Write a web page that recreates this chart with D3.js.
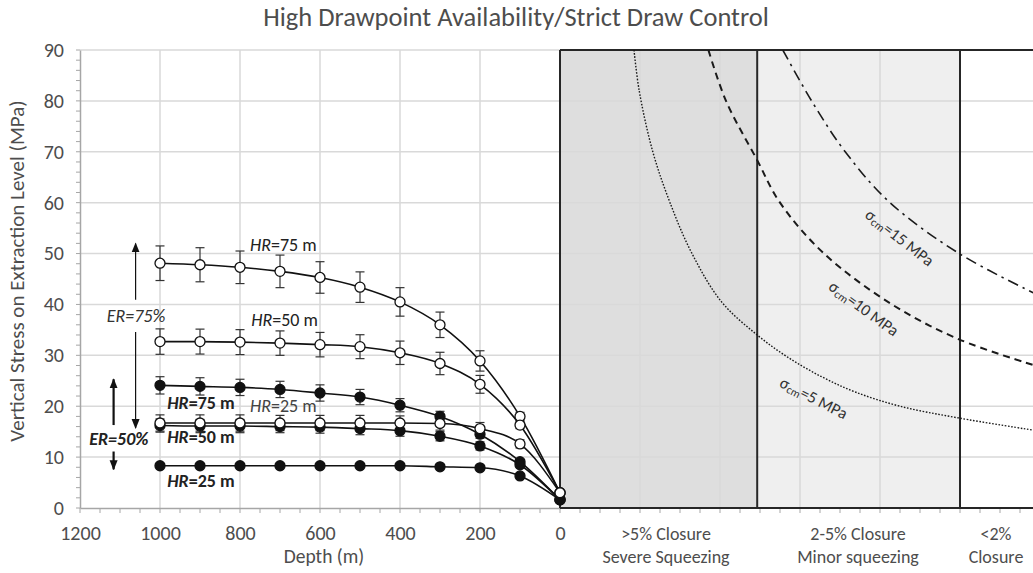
<!DOCTYPE html>
<html>
<head>
<meta charset="utf-8">
<script src="https://cdn.jsdelivr.net/npm/d3@7"></script>
<style>
  html, body { margin: 0; padding: 0; background: #fff; }
  svg { display: block; font-family: Carlito, "Open Sans", "Noto Sans", sans-serif; }
</style>
</head>
<body>
<svg id="chart" width="1033" height="573"></svg>
<script>
// ---- Depth series (m) and vertical stress (MPa) on extraction level ----
const depths = [1000, 900, 800, 700, 600, 500, 400, 300, 200, 100, 0];

// ER = 75 % (open markers)
const er75hr75 = [48.1, 47.8, 47.3, 46.5, 45.3, 43.4, 40.5, 36.0, 28.9, 18.0, 3.0];
const er75hr75Err = [3.4, 3.35, 3.2, 3.2, 3.1, 3.0, 2.8, 2.5, 2.0, 0.8, 0];
const er75hr50 = [32.7, 32.7, 32.6, 32.4, 32.1, 31.7, 30.5, 28.4, 24.3, 16.3, 3.0];
const er75hr50Err = [2.5, 2.45, 2.45, 2.4, 2.4, 2.35, 2.3, 2.2, 1.75, 0.7, 0];
const er75hr25 = [16.7, 16.7, 16.7, 16.7, 16.7, 16.7, 16.7, 16.6, 15.6, 12.6, 3.0];
const er75hr25Err = [1.6, 1.6, 1.6, 1.5, 1.5, 1.5, 1.4, 1.3, 1.2, 0.8, 0];

// ER = 50 % (filled markers)
const er50hr75 = [24.1, 23.9, 23.7, 23.3, 22.6, 21.8, 20.2, 18.0, 14.5, 9.1, 1.6];
const er50hr75Err = [1.7, 1.7, 1.6, 1.6, 1.6, 1.5, 1.3, 1.0, 0.8, 0.4, 0];
const er50hr50 = [16.2, 16.1, 16.1, 16.0, 15.9, 15.6, 15.2, 14.1, 12.2, 8.5, 1.6];
const er50hr50Err = [1.3, 1.3, 1.3, 1.2, 1.2, 1.2, 1.1, 0.9, 0.8, 0.4, 0];
const er50hr25 = [8.3, 8.3, 8.3, 8.3, 8.3, 8.3, 8.3, 8.1, 7.9, 6.3, 1.6];
const er50hr25Err = [0.3, 0.3, 0.3, 0.3, 0.3, 0.3, 0.3, 0.3, 0.3, 0.2, 0];

// ---- Closure chart: squeezing limit curves for rock-mass strength ----
// position along the closure panel (u) and stress (MPa)
const sigma5U = [1.85, 1.98, 2.32, 2.75, 3.3, 4.04, 4.93, 5.7, 6.54, 7.38, 8.5, 9.96, 11.83];
const sigma5V = [90, 82, 70, 60, 50, 40.5, 34, 29.6, 25.8, 22.8, 20, 17.7, 15.3];
const sigma10U = [3.71, 4.15, 4.92, 5.5, 6.6, 8.3, 9.96, 11.83];
const sigma10V = [90, 80, 68.5, 60, 50, 40, 33.2, 28.1];
const sigma15U = [5.57, 6.29, 7.13, 8.25, 9.98, 11.83];
const sigma15V = [90, 80, 70, 60, 50, 42.3];

const zoneBounds = [0, 4.93, 10, 12];
const zoneLine1 = [">5% Closure", "2-5% Closure", "<2%"];
const zoneLine2 = ["Severe Squeezing", "Minor squeezing", "Closure"];
const zoneLabelU = [2.65, 7.45, 10.9];

const depthTicks = [1200, 1000, 800, 600, 400, 200, 0];
const stressTicks = [0, 10, 20, 30, 40, 50, 60, 70, 80, 90];

// ---- Layout ----
const svg = d3.select("#chart");
const W = 1033;
const x = d3.scaleLinear().domain([1200, 0]).range([80, 560]);
const xr = d3.scaleLinear().domain([0, 12]).range([560, 1040]);
const y = d3.scaleLinear().domain([0, 90]).range([508, 50]);

const gridColor = "#d9d9d9";
const textColor = "#4d4d4d";

// zone shading of the closure panel
const zoneFill = ["#dedede", "#efefef", "#ffffff"];
svg.append("g").selectAll("rect")
  .data(zoneFill)
  .join("rect")
  .attr("x", (d, i) => xr(zoneBounds[i]))
  .attr("y", y(90))
  .attr("width", (d, i) => Math.min(xr(zoneBounds[i + 1]), W) - xr(zoneBounds[i]))
  .attr("height", y(0) - y(90))
  .attr("fill", d => d);

// grid
const grid = svg.append("g").attr("stroke", gridColor).attr("stroke-width", 1.5);
grid.selectAll("line.h")
  .data(stressTicks.filter(d => d > 0))
  .join("line")
  .attr("x1", x(1200)).attr("x2", W)
  .attr("y1", d => y(d)).attr("y2", d => y(d));
grid.selectAll("line.v")
  .data(depthTicks.filter(d => d !== 1200 && d !== 0))
  .join("line")
  .attr("x1", d => x(d)).attr("x2", d => x(d))
  .attr("y1", y(0)).attr("y2", y(90));
grid.selectAll("line.vr")
  .data([2, 4, 6, 8])
  .join("line")
  .attr("x1", d => xr(d)).attr("x2", d => xr(d))
  .attr("y1", y(0)).attr("y2", y(90));

// left axis (stress)
const yAxis = d3.axisLeft(y).tickValues(stressTicks).tickSize(0).tickPadding(16);
const gy = svg.append("g").attr("transform", `translate(${x(1200)},0)`).call(yAxis);
gy.select(".domain").attr("stroke", "#a6a6a6").attr("stroke-width", 1.5);
gy.selectAll("text").attr("fill", textColor).style("font-size", "20px")
  .style("font-family", "Carlito, 'Open Sans', sans-serif");
svg.append("g").attr("stroke", "#a6a6a6").attr("stroke-width", 1)
  .selectAll("line")
  .data(d3.range(0, 90.1, 2))
  .join("line")
  .attr("x1", x(1200) - 4).attr("x2", x(1200))
  .attr("y1", d => y(d)).attr("y2", d => y(d));

// bottom axis (depth)
const xAxis = d3.axisBottom(x).tickValues(depthTicks).tickSize(0).tickPadding(18)
  .tickFormat(d3.format("d"));
const gx = svg.append("g").attr("transform", `translate(0,${y(0)})`).call(xAxis);
gx.select(".domain").attr("stroke", "#a6a6a6").attr("stroke-width", 1.5);
gx.selectAll("text").attr("fill", textColor).style("font-size", "20px")
  .style("font-family", "Carlito, 'Open Sans', sans-serif");
svg.append("g").attr("stroke", "#a6a6a6").attr("stroke-width", 1)
  .selectAll("line")
  .data(d3.range(1200, -1, -50))
  .join("line")
  .attr("x1", d => x(d)).attr("x2", d => x(d))
  .attr("y1", y(0)).attr("y2", y(0) + 5);
svg.append("g").attr("stroke", "#a6a6a6").attr("stroke-width", 1)
  .selectAll("line")
  .data(d3.range(0.5, 12.01, 0.5))
  .join("line")
  .attr("x1", d => xr(d)).attr("x2", d => xr(d))
  .attr("y1", y(0)).attr("y2", y(0) + 5);

// closure panel frame and zone dividers
const frame = svg.append("g").attr("stroke", "#262626").attr("stroke-width", 2).attr("fill", "none");
frame.append("line").attr("x1", xr(0)).attr("x2", W).attr("y1", y(90)).attr("y2", y(90));
frame.append("line").attr("x1", xr(0)).attr("x2", W).attr("y1", y(0)).attr("y2", y(0));
frame.selectAll("line.z")
  .data(zoneBounds.slice(0, 3))
  .join("line")
  .attr("x1", d => xr(d)).attr("x2", d => xr(d))
  .attr("y1", y(0)).attr("y2", y(90));

// squeezing curves
const limitLine = d3.line().x(d => xr(d[0])).y(d => y(d[1])).curve(d3.curveCatmullRom.alpha(0.5));
const limits = [
  { u: sigma5U, v: sigma5V, dash: "1.6,1.6", w: 1.4 },
  { u: sigma10U, v: sigma10V, dash: "7,5", w: 2 },
  { u: sigma15U, v: sigma15V, dash: "11,5,2.5,5", w: 1.6 }
];
svg.append("defs").append("clipPath").attr("id", "rp")
  .append("rect").attr("x", xr(0)).attr("y", y(90)).attr("width", W - xr(0)).attr("height", y(0) - y(90));
svg.append("g").attr("clip-path", "url(#rp)")
  .selectAll("path")
  .data(limits)
  .join("path")
  .attr("d", d => limitLine(d.u.map((u, i) => [u, d.v[i]])))
  .attr("fill", "none")
  .attr("stroke", "#1a1a1a")
  .attr("stroke-width", d => d.w)
  .attr("stroke-dasharray", d => d.dash);

// curve labels
const sigmaLabels = [
  { val: "15", u: 8.5, v: 53.2, a: 38 },
  { val: "10", u: 7.6, v: 39.3, a: 36 },
  { val: "5", u: 6.35, v: 21.7, a: 27 }
];
sigmaLabels.forEach(s => {
  const t = svg.append("text")
    .attr("transform", `translate(${xr(s.u)},${y(s.v)}) rotate(${s.a})`)
    .attr("text-anchor", "middle")
    .attr("dominant-baseline", "central")
    .attr("fill", "#333")
    .style("font-size", "16.5px");
  t.append("tspan").text("σ");
  t.append("tspan").attr("dy", 4).style("font-size", "11.5px").text("cm");
  t.append("tspan").attr("dy", -4).text(`=${s.val} MPa`);
});

// zone labels
const zl = svg.append("g").attr("fill", textColor).attr("text-anchor", "middle").style("font-size", "18px");
zl.selectAll("text.l1").data(zoneLine1).join("text")
  .attr("x", (d, i) => xr(zoneLabelU[i])).attr("y", 539.5).text(d => d);
zl.selectAll("text.l2").data(zoneLine2).join("text")
  .attr("x", (d, i) => xr(zoneLabelU[i])).attr("y", 563).text(d => d);

// stress series
const series = [
  { v: er75hr75, e: er75hr75Err, filled: false },
  { v: er75hr50, e: er75hr50Err, filled: false },
  { v: er50hr75, e: er50hr75Err, filled: true },
  { v: er50hr50, e: er50hr50Err, filled: true },
  { v: er50hr25, e: er50hr25Err, filled: true },
  { v: er75hr25, e: er75hr25Err, filled: false }
];
const stressLine = d3.line().x(d => x(d[0])).y(d => y(d[1])).curve(d3.curveMonotoneX);
const sg = svg.append("g");
series.forEach(s => {
  const pts = depths.map((d, i) => [d, s.v[i], s.e[i]]);
  sg.append("path")
    .attr("d", stressLine(pts))
    .attr("fill", "none").attr("stroke", "#111").attr("stroke-width", 1.6);
});
series.forEach(s => {
  const pts = depths.map((d, i) => [d, s.v[i], s.e[i]]).filter(p => p[2] > 0);
  const eb = sg.append("g").attr("stroke", "#333").attr("stroke-width", 1.2);
  eb.selectAll("line.s").data(pts).join("line")
    .attr("x1", p => x(p[0])).attr("x2", p => x(p[0]))
    .attr("y1", p => y(p[1] - p[2])).attr("y2", p => y(p[1] + p[2]));
  eb.selectAll("line.t").data(pts).join("line")
    .attr("x1", p => x(p[0]) - 4.5).attr("x2", p => x(p[0]) + 4.5)
    .attr("y1", p => y(p[1] + p[2])).attr("y2", p => y(p[1] + p[2]));
  eb.selectAll("line.b").data(pts).join("line")
    .attr("x1", p => x(p[0]) - 4.5).attr("x2", p => x(p[0]) + 4.5)
    .attr("y1", p => y(p[1] - p[2])).attr("y2", p => y(p[1] - p[2]));
});
series.forEach(s => {
  sg.append("g").selectAll("circle")
    .data(depths.map((d, i) => [d, s.v[i]]))
    .join("circle")
    .attr("cx", p => x(p[0])).attr("cy", p => y(p[1]))
    .attr("r", 5)
    .attr("fill", s.filled ? "#111" : "#fff")
    .attr("stroke", "#111").attr("stroke-width", 1.3);
});

// annotations
function hrLabel(depth, stress, value, bold, color) {
  const t = svg.append("text")
    .attr("x", x(depth)).attr("y", y(stress))
    .attr("fill", color || "#222")
    .style("font-size", "18px")
    .style("font-weight", bold ? "bold" : "normal");
  t.append("tspan").style("font-style", "italic").text("HR");
  t.append("tspan").text(`=${value} m`);
}
hrLabel(775, 50.6, 75, false);
hrLabel(772, 35.8, 50, false);
hrLabel(775, 18.9, 25, false, "#444");
hrLabel(982, 19.4, 75, true);
hrLabel(982, 12.8, 50, true);
hrLabel(982, 4.2, 25, true);

svg.append("text").attr("x", x(1133)).attr("y", y(36.5))
  .attr("fill", "#333").style("font-size", "18px").style("font-style", "italic")
  .text("ER=75%");
svg.append("text").attr("x", x(1177)).attr("y", y(12.4))
  .attr("fill", "#222").style("font-size", "18px").style("font-style", "italic")
  .style("font-weight", "bold").text("ER=50%");

const defs = svg.select("defs");
defs.append("marker").attr("id", "ah").attr("viewBox", "0 0 10 10")
  .attr("refX", 9).attr("refY", 5).attr("markerWidth", 10).attr("markerHeight", 10)
  .attr("markerUnits", "userSpaceOnUse").attr("orient", "auto")
  .append("path").attr("d", "M0,1 L10,5 L0,9 Z").attr("fill", "#111");
const arrows = [
  { d: 1061, from: 40.9, to: 52.0, w: 1.2 },
  { d: 1061, from: 34.6, to: 15.7, w: 1.2 },
  { d: 1116, from: 16.3, to: 25.3, w: 2.2 },
  { d: 1116, from: 11.1, to: 7.6, w: 2.2 }
];
svg.append("g").selectAll("line")
  .data(arrows)
  .join("line")
  .attr("x1", a => x(a.d)).attr("x2", a => x(a.d))
  .attr("y1", a => y(a.from)).attr("y2", a => y(a.to))
  .attr("stroke", "#111").attr("stroke-width", a => a.w)
  .attr("marker-end", "url(#ah)");

// titles
svg.append("text").attr("x", 516).attr("y", 26).attr("text-anchor", "middle")
  .attr("fill", textColor).style("font-size", "26.5px")
  .text("High Drawpoint Availability/Strict Draw Control");
svg.append("text").attr("x", x(590)).attr("y", 563).attr("text-anchor", "middle")
  .attr("fill", textColor).style("font-size", "19.5px").text("Depth (m)");
svg.append("text")
  .attr("transform", `translate(24,271) rotate(-90)`)
  .attr("text-anchor", "middle")
  .attr("fill", textColor).style("font-size", "21px")
  .text("Vertical Stress on Extraction Level (MPa)");
</script>
</body>
</html>
